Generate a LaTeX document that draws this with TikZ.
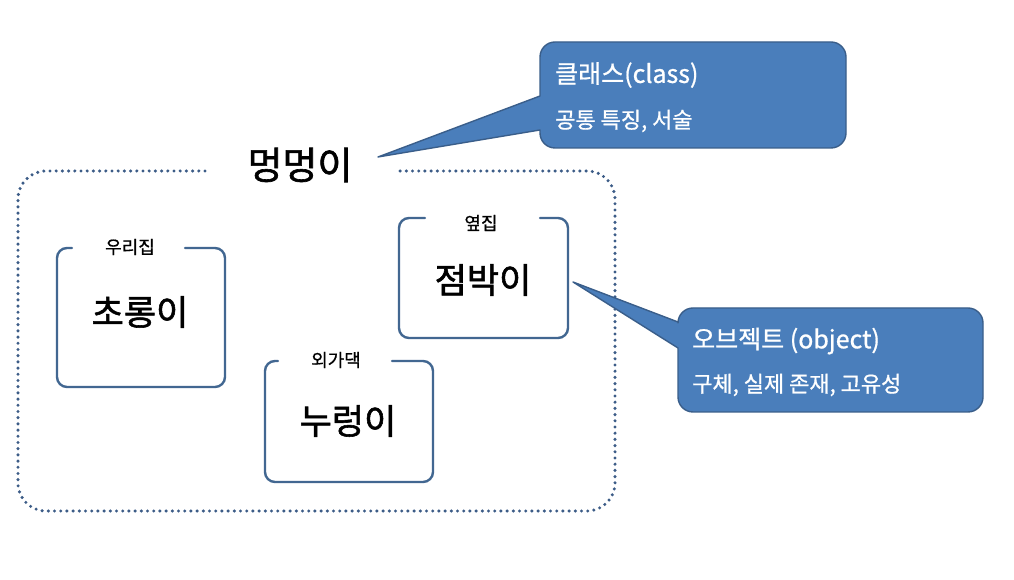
\documentclass[tikz,border=0pt]{standalone}
\usepackage{fontspec}
\setmainfont{Noto Sans CJK KR}
\newfontfamily\kr{Noto Sans CJK KR}
\newfontfamily\krfb[FakeBold=1.6]{Noto Sans CJK KR}
\newfontfamily\krsb[FakeBold=0.8]{Noto Sans CJK KR}
\definecolor{callfill}{RGB}{74,126,187}
\definecolor{callline}{RGB}{58,94,138}
\definecolor{frameblue}{RGB}{66,103,145}
\definecolor{dotblue}{RGB}{60,92,135}
\begin{document}
\begin{tikzpicture}[x=1pt,y=1pt,
  framebox/.style={draw=frameblue,line width=2.4pt,rounded corners=10pt,line cap=round},
  outerdots/.style={draw=dotblue,line width=3.4pt,dash pattern=on 0pt off 6.2pt,line cap=round,rounded corners=28pt},
  calloutshape/.style={fill=callfill,draw=callline,line width=1.4pt,line join=round},
  dogname/.style={font=\krfb\fontsize{35}{38}\selectfont,inner sep=0pt},
  titlelbl/.style={font=\krfb\fontsize{38}{40}\selectfont,inner sep=0pt},
  placelbl/.style={font=\krsb\fontsize{18}{20}\selectfont,inner sep=0pt},
  ctitle/.style={font=\krsb\fontsize{25}{27}\selectfont,text=white,inner sep=0pt,anchor=west},
  csub/.style={font=\krsb\fontsize{22}{24}\selectfont,text=white,inner sep=0pt,anchor=west}]
\useasboundingbox[fill=white] (0,0) rectangle (1014,580);
% outer dotted group
\draw[outerdots] (205,409) -- (18,409) -- (18,69) -- (615,69) -- (615,409) -- (400,409);
\node[titlelbl] (title) at (300,415) {멍멍이};
% boxes
\draw[framebox] (72,332) -- (57,332) -- (57,193) -- (225,193) -- (225,332) -- (185,332);
\node[placelbl] (home) at (130,333) {우리집};
\node[dogname] (chorong) at (140,268) {초롱이};
\draw[framebox] (425,362) -- (399,362) -- (399,242) -- (568,242) -- (568,362) -- (540,362);
\node[placelbl] (next) at (481,357) {옆집};
\node[dogname] (jeombak) at (483,300) {점박이};
\draw[framebox] (278,219) -- (265,219) -- (265,98) -- (433,98) -- (433,219) -- (392,219);
\node[placelbl] (oega) at (336,220) {외가댁};
\node[dogname] (nureong) at (348,159) {누렁이};
% class callout
\coordinate (tip1) at (378,423);
\path[calloutshape] (540,484) -- (540,523) arc[start angle=180,end angle=90,radius=15]
  -- (831,538) arc[start angle=90,end angle=0,radius=15]
  -- (846,447) arc[start angle=0,end angle=-90,radius=15]
  -- (555,432) arc[start angle=-90,end angle=-180,radius=15]
  -- (540,450) -- (tip1) -- cycle;
\node[ctitle] (cls) at (555,505) {클래스(class)};
\node[csub] (clsd) at (555,459) {공통 특징, 서술};
% object callout
\coordinate (tip2) at (573,298);
\path[calloutshape] (678,258) -- (678,257) arc[start angle=180,end angle=90,radius=15]
  -- (968,272) arc[start angle=90,end angle=0,radius=15]
  -- (983,183) arc[start angle=0,end angle=-90,radius=15]
  -- (693,168) arc[start angle=-90,end angle=-180,radius=15]
  -- (678,232) -- (tip2) -- cycle;
\node[ctitle] (obj) at (692,239) {오브젝트 (object)};
\node[csub] (objd) at (692,195) {구체, 실제 존재, 고유성};
\end{tikzpicture}
\end{document}
